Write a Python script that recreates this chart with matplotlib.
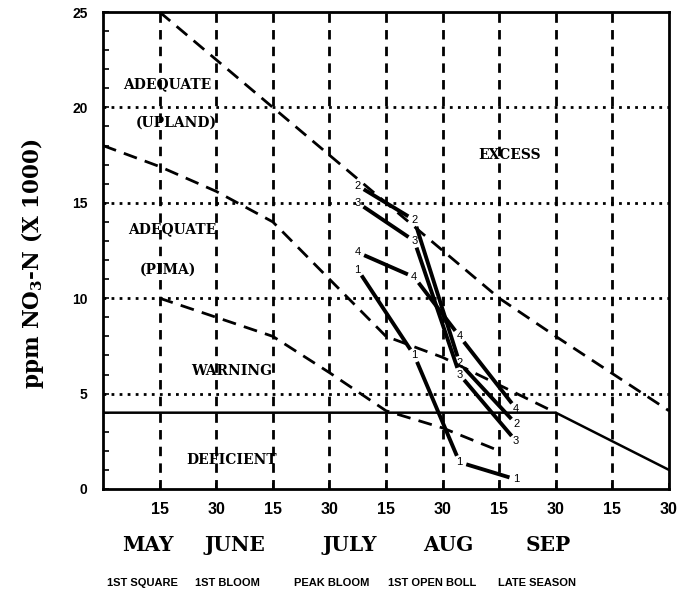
import numpy as np
import matplotlib
matplotlib.use("Agg")
import matplotlib.pyplot as plt
from matplotlib.transforms import blended_transform_factory

plt.rcParams['mathtext.fontset'] = 'custom'
plt.rcParams['mathtext.rm'] = 'DejaVu Serif:bold'
plt.rcParams['mathtext.it'] = 'DejaVu Serif:bold'
plt.rcParams['mathtext.bf'] = 'DejaVu Serif:bold'

# x axis: half-month steps starting May 1 (0) through Sep 30 (10)
tick_pos = [1, 2, 3, 4, 5, 6, 7, 8, 9, 10]
tick_labels = ["15", "30", "15", "30", "15", "30", "15", "30", "15", "30"]
months = ["MAY", "JUNE", "JULY", "AUG", "SEP"]
month_pos = [0.8, 2.33, 4.36, 6.1, 7.86]
stages = ["1ST SQUARE", "1ST BLOOM", "PEAK BLOOM", "1ST OPEN BOLL", "LATE SEASON"]
stage_pos = [0.7, 2.19, 4.04, 5.81, 7.67]

# critical-level boundaries
upland_x = [1, 2, 3, 7, 8, 10]
upland_y = [25, 22.5, 20, 10, 8, 4.1]
pima_x = [0, 1, 2, 3, 4, 5, 6, 8]
pima_y = [18, 16.9, 15.6, 14, 11, 8, 6.9, 4.0]
warn_x = [1, 2, 3, 4, 5, 6, 7]
warn_y = [10, 9, 8, 6.1, 4.1, 3.2, 2.0]
defic_x = [0, 8, 10]
defic_y = [4, 4, 1]

# petiole nitrate by field
sample_x = [4.5, 5.5, 6.3, 7.3]
field_1 = [11.5, 7.0, 1.4, 0.5]
field_2 = [15.9, 14.1, 6.6, 3.4]
field_3 = [15.0, 13.0, 6.0, 2.5]
field_4 = [12.4, 11.1, 8.0, 4.2]
fields = {"1": field_1, "2": field_2, "3": field_3, "4": field_4}

zones = [("ADEQUATE", 1.13, 21.2), ("(UPLAND)", 1.3, 19.2),
         ("ADEQUATE", 1.22, 13.6), ("(PIMA)", 1.15, 11.5),
         ("WARNING", 2.28, 6.2), ("DEFICIENT", 2.28, 1.5),
         ("EXCESS", 7.19, 17.5)]

fig = plt.figure(figsize=(6.82, 5.97), dpi=100)
ax = fig.add_axes([103 / 682, 1 - 489 / 597, 566 / 682, 477 / 597])
ax.set_xlim(0, 10)
ax.set_ylim(0, 25)

# grid
for xv in range(1, 10):
    ax.plot([xv, xv], [0, 25], color="black", lw=2.0,
            linestyle=(0, (3.4, 2.6)), zorder=1)
for yv in [5, 10, 15, 20]:
    ax.plot([0, 10], [yv, yv], color="black", lw=2.0,
            linestyle=(0, (1, 1.9)), zorder=1)

dash = (0, (5.0, 3.0))
ax.plot(upland_x, upland_y, color="black", lw=2.0, linestyle=dash, zorder=2)
ax.plot(pima_x, pima_y, color="black", lw=2.0, linestyle=dash, zorder=2)
ax.plot(warn_x, warn_y, color="black", lw=2.0, linestyle=dash, zorder=2)
ax.plot(defic_x, defic_y, color="black", lw=1.8, zorder=2)

# field series: segments stop short of the numbered points
to_px = ax.transData
to_data = ax.transData.inverted()
gap = 7.0
for name, ys in fields.items():
    pts = to_px.transform(np.column_stack([sample_x, ys]))
    for p0, p1 in zip(pts[:-1], pts[1:]):
        d = p1 - p0
        u = d / np.hypot(*d)
        a = to_data.transform(p0 + u * gap)
        b = to_data.transform(p1 - u * gap)
        ax.plot([a[0], b[0]], [a[1], b[1]], color="black", lw=2.8,
                solid_capstyle="butt", zorder=3)
    for xv, yv in zip(sample_x, ys):
        ax.text(xv, yv, name, ha="center", va="center", fontsize=8,
                family=["Liberation Sans Narrow", "Liberation Sans"], zorder=4)

for txt, xv, yv in zones:
    ax.text(xv, yv, txt, ha="center", va="center", fontsize=10,
            family="DejaVu Serif", weight="bold", zorder=5)

for s in ax.spines.values():
    s.set_linewidth(2.0)

ax.set_xticks(tick_pos)
ax.set_xticklabels(tick_labels)
ax.set_yticks([0, 5, 10, 15, 20, 25])
ax.set_yticks(range(0, 26), minor=True)
ax.tick_params(axis="both", which="both", direction="in", length=4, width=1.2)
ax.tick_params(axis="x", pad=9, labelsize=11.5)
ax.tick_params(axis="y", pad=11, labelsize=10)
for lab in ax.get_xticklabels() + ax.get_yticklabels():
    lab.set_family("Liberation Sans")
    lab.set_weight("bold")

btrans = blended_transform_factory(ax.transData, fig.transFigure)
for txt, xv in zip(months, month_pos):
    fig.text(xv, 1 - 545 / 597, txt, transform=btrans, ha="center", va="center",
             fontsize=14.5, family="DejaVu Serif", weight="bold")
for txt, xv in zip(stages, stage_pos):
    fig.text(xv, 1 - 583 / 597, txt, transform=btrans, ha="center", va="center",
             fontsize=8, family="Liberation Sans", weight="bold")

fig.text(0.047, 1 - 264 / 597, r"ppm NO$_{\mathrm{3}}$-N (X 1000)", rotation=90,
         ha="center", va="center", fontsize=15.5, family="DejaVu Serif",
         weight="bold")

fig.savefig("out.png", dpi=100)
